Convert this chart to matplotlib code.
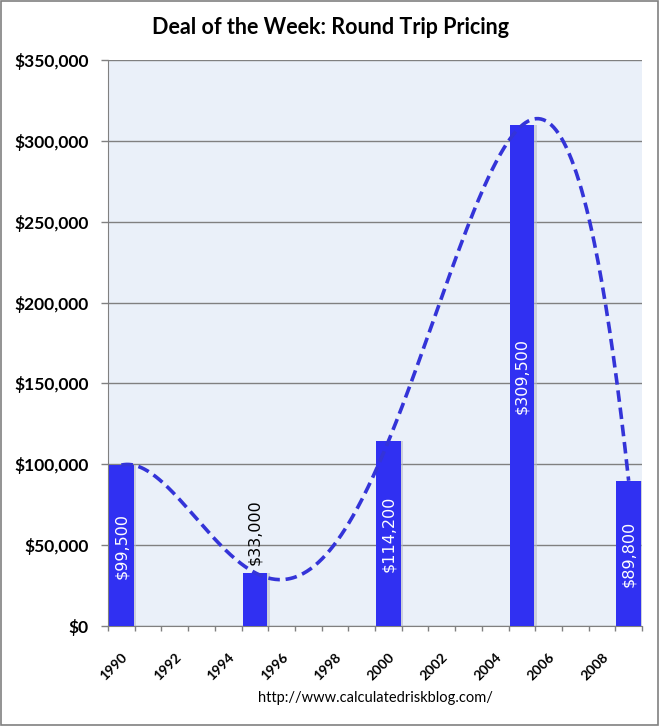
import numpy as np
import matplotlib
matplotlib.use('Agg')
import matplotlib.pyplot as plt
from matplotlib.patches import Rectangle
from matplotlib.ticker import FuncFormatter

# Data
years = list(range(1990, 2010))
deal_years = [1990, 1995, 2000, 2005, 2009]
prices = [99500, 33000, 114200, 309500, 89800]
label_inside = [True, False, True, True, True]

bar_color = '#3030F2'
line_color = '#3434D8'

fig = plt.figure(figsize=(6.59, 7.26), dpi=100)
ax = fig.add_axes([108 / 659, 100 / 726, 534 / 659, 566 / 726])
ax.set_facecolor('#EAF0F9')

# category positions
pos = [years.index(y) for y in deal_years]

# bar shadows, then bars
ax.bar([p + 0.1 for p in pos], prices, width=0.92, color='#B8BCC8', alpha=0.6, zorder=2)
ax.bar(pos, prices, width=0.92, color=bar_color, zorder=3)

# 4th order polynomial trendline through the deals
coef = np.polyfit(pos, prices, 4)
xs = np.linspace(pos[0], pos[-1], 400)
ax.plot(xs, np.polyval(coef, xs), color=line_color, lw=2.6, ls=(0, (3.2, 1.6)), zorder=4)

# bar value labels
for p, v, inside in zip(pos, prices, label_inside):
    txt = '${:,}'.format(v)
    if inside:
        ax.text(p, v / 2, txt, rotation=90, ha='center', va='center', color='white',
                fontsize=11.5, family='DejaVu Sans', zorder=5)
    else:
        ax.text(p, v + 5000, txt, rotation=90, ha='center', va='bottom', color='black',
                fontsize=11.5, family='DejaVu Sans', zorder=5)

ax.set_xlim(-0.5, len(years) - 0.5)
ax.set_ylim(0, 350000)
ax.set_yticks(range(0, 350001, 50000))
ax.yaxis.set_major_formatter(FuncFormatter(lambda v, _: '${:,.0f}'.format(v)))
ax.grid(axis='y', color='#808080', lw=1, zorder=1)
ax.set_axisbelow(True)

# x ticks: boundaries as minor ticks, labels every 2 years
ax.set_xticks([i - 0.5 for i in range(len(years) + 1)], minor=True)
label_years = years[::2]
ax.set_xticks([years.index(y) for y in label_years])
ax.set_xticklabels([str(y) for y in label_years], rotation=45, ha='right',
                   rotation_mode='anchor', fontsize=10, fontweight='bold', family='Lato')
ax.tick_params(axis='x', which='major', length=0, pad=18)
ax.tick_params(axis='x', which='minor', length=3.6, color='#808080', width=1)
ax.tick_params(axis='y', length=5, color='#808080', width=1, pad=9)
for lab in ax.get_yticklabels():
    lab.set_fontsize(12.5)
    lab.set_fontweight('bold')
    lab.set_family('Lato')

for side in ['top', 'right']:
    ax.spines[side].set_visible(False)
for side in ['left', 'bottom']:
    ax.spines[side].set_color('#808080')

fig.text(330 / 659, 1 - 27 / 726, 'Deal of the Week: Round Trip Pricing', ha='center', va='center',
         fontsize=15.5, fontweight='bold', family='Lato')
fig.text(375 / 659, 1 - 698 / 726, 'http://www.calculatedriskblog.com/', ha='center', va='center',
         fontsize=10.5, family='Lato')

# outer border
fig.patches.append(Rectangle((0.002, 0.002), 0.996, 0.996, transform=fig.transFigure,
                             fill=False, edgecolor='#808080', lw=1.2))

fig.savefig('out.png', dpi=100)
